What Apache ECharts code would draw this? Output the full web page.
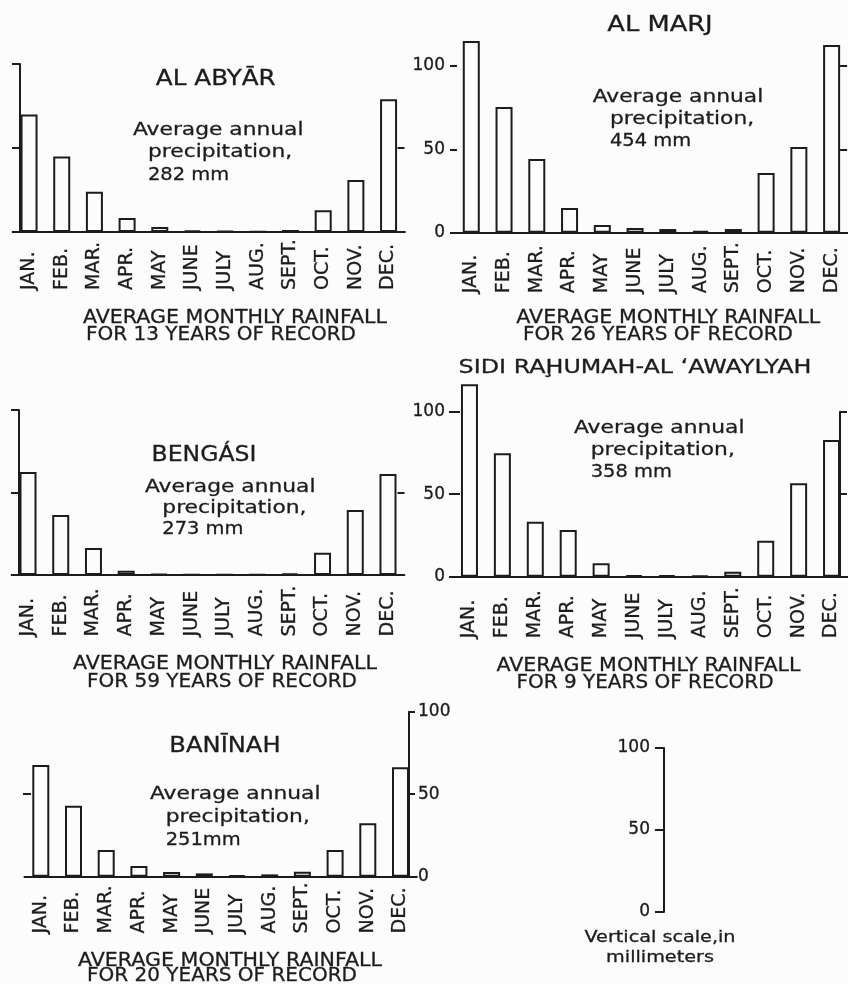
<!DOCTYPE html>
<html>
<head>
<meta charset="utf-8">
<title>Average monthly rainfall</title>
<script src="https://cdn.jsdelivr.net/npm/echarts@6/dist/echarts.min.js"></script>
<style>
  html, body { margin: 0; padding: 0; background: #fcfcfc; }
  #chart { width: 848px; height: 984px; }
</style>
</head>
<body>
<div id="chart"></div>
<script>
// month names lettered under the bars
const months = ['JAN.', 'FEB.', 'MAR.', 'APR.', 'MAY', 'JUNE', 'JULY', 'AUG.', 'SEPT.', 'OCT.', 'NOV.', 'DEC.']

// average monthly rainfall in mm
const alAbyar = [70, 45, 24, 8.3, 3, 0.8, 0.5, 0.4, 1.2, 13, 31, 79]
const alMarj = [115, 75.4, 44.2, 14.8, 4.6, 2.8, 2.2, 1, 2.2, 35.8, 51.4, 112.6]
const bengasi = [62.4, 36.4, 16.4, 2.6, 0.6, 0.3, 0.2, 0.4, 1, 13.5, 39.4, 61.2]
const sidiRahumah = [116.6, 74.8, 33.3, 28.3, 8.1, 0.8, 0.8, 0.6, 3, 21.8, 56.6, 82.8]
const baninah = [67.7, 43, 16.2, 6.5, 2.8, 2, 0.8, 1.4, 3, 16.2, 32.4, 66.3]

const stations = ['AL ABYĀR', 'AL MARJ', 'BENGÁSI', 'SIDI RAḨUMAH-AL ʻAWAYLYAH', 'BANĪNAH']
const annualText = ['282 mm', '454 mm', '273 mm', '358 mm', '251mm']
const yearsOfRecord = [13, 26, 59, 9, 20]
const scaleTicks = [0, 50, 100]

const INK = '#1c1c1c'
const BG = '#fcfcfc'
const FONT = 'DejaVu Sans'

// where each small chart sits on the sheet
const panels = [
  { data: alAbyar, grid: [12.7, 64, 392.2, 168], labelMargin: 58,
    left: { off: -7.3, line: true, ticks: [0, 50, 100], len: 8 },
    right: { off: -7.4, line: false, ticks: [50], len: 7 },
    title: [215.8, 79.5, 22, 1.12], note: [133, 148, 130, 22.5], caption: [235, 317.5, 221, 335] },
  { data: alMarj, grid: [454.9, 66, 394, 166.7], labelMargin: 60.5,
    left: { off: -2.1, line: false, ticks: [0, 50, 100], len: 7, labels: scaleTicks, margin: 12 },
    right: { off: -7.9, line: false, ticks: [50, 100], len: 7 },
    title: [660, 25, 22, 1.17], note: [592.7, 610, 97, 22], caption: [668.3, 317.5, 658, 335] },
  { data: bengasi, grid: [11.65, 410, 392.7, 165], labelMargin: 61.5,
    left: { off: -7.35, line: true, ticks: [0, 50, 100], len: 8 },
    right: { off: -6.85, line: false, ticks: [50], len: 7 },
    title: [204, 455, 22, 1.07], note: [145, 162.3, 487.8, 21], caption: [225, 664, 222, 681.5] },
  { data: sidiRahumah, grid: [453, 411.7, 395.1, 165], labelMargin: 61.5,
    left: { off: -7, line: false, ticks: [0, 50, 100], len: 11, labels: scaleTicks, margin: 15 },
    right: { off: -8, line: true, ticks: [50, 100], len: 7 },
    title: [635, 368, 20, 1.19], note: [574, 590.7, 428.3, 22], caption: [648.5, 665.8, 645, 683] },
  { data: baninah, grid: [24.45, 711.7, 392.4, 165], labelMargin: 56.7,
    left: { off: -6.55, line: false, ticks: [50], len: 8 },
    right: { off: -7.85, line: true, ticks: [0, 50, 100], len: 6, labels: scaleTicks, margin: 9 },
    title: [225, 746, 22, 1.1], note: [150, 165.7, 794, 23], caption: [230, 960.3, 222, 976] }
]

function yAx (gi, pos, s) {
  return {
    type: 'value', gridIndex: gi, position: pos, min: 0, max: 100, interval: 50,
    offset: s.off,
    axisLine: { show: s.line, lineStyle: { color: INK, width: 2 } },
    axisTick: { show: true, length: s.len, customValues: s.ticks, lineStyle: { color: INK, width: 2 } },
    axisLabel: s.labels
      ? { show: true, customValues: s.labels, margin: s.margin, fontSize: 17, fontFamily: FONT, color: INK, textBorderColor: INK, textBorderWidth: 0.3 }
      : { show: false },
    splitLine: { show: false }
  }
}

function txt (str, x, y, size, align, sx) {
  return {
    type: 'text', x: x, y: y, scaleX: sx, silent: true,
    style: {
      text: str, fontSize: size, fontFamily: FONT, fill: INK, stroke: INK, lineWidth: 0.3,
      align: align, verticalAlign: 'middle', textAlign: align, textVerticalAlign: 'middle'
    }
  }
}

const grids = []
const xAxes = []
const yAxes = []
const series = []
const texts = []

panels.forEach((p, i) => {
  grids.push({ left: p.grid[0], top: p.grid[1], width: p.grid[2], height: p.grid[3] })
  xAxes.push({
    type: 'category', gridIndex: i, data: months,
    axisLine: { show: true, onZero: false, lineStyle: { color: INK, width: 2 } },
    axisTick: { show: false },
    axisLabel: {
      interval: 0, rotate: 90, align: 'left', verticalAlign: 'middle', margin: p.labelMargin,
      fontSize: 19, fontFamily: FONT, color: INK, textBorderColor: INK, textBorderWidth: 0.3
    },
    splitLine: { show: false }
  })
  yAxes.push(yAx(i, 'left', p.left))
  yAxes.push(yAx(i, 'right', p.right))
  series.push({
    type: 'bar', xAxisIndex: i, yAxisIndex: i * 2, data: p.data,
    barWidth: 17, clip: false, silent: true,
    itemStyle: { color: BG, borderColor: INK, borderWidth: 2 }
  })

  texts.push(txt(stations[i], p.title[0], p.title[1], p.title[2], 'center', p.title[3]))
  texts.push(txt('Average annual', p.note[0], p.note[2], 18, 'left', 1.21))
  texts.push(txt('precipitation,', p.note[1], p.note[2] + p.note[3], 18, 'left', 1.21))
  texts.push(txt(annualText[i], p.note[1], p.note[2] + p.note[3] * 2, 18, 'left', 1.08))
  texts.push(txt('AVERAGE MONTHLY RAINFALL', p.caption[0], p.caption[1], 20, 'center', 1.03))
  texts.push(txt('FOR ' + yearsOfRecord[i] + ' YEARS OF RECORD', p.caption[2], p.caption[3], 20, 'center', 1.0))
})

// the stand-alone vertical scale
grids.push({ left: 664, top: 748, width: 20, height: 164 })
xAxes.push({ type: 'value', gridIndex: 5, min: 0, max: 1, show: false })
yAxes.push(yAx(5, 'left', { off: 0, line: true, ticks: scaleTicks, len: 9, labels: scaleTicks, margin: 14 }))
texts.push(txt('Vertical scale,in', 660, 938, 16, 'center', 1.2))
texts.push(txt('millimeters', 660, 958, 16, 'center', 1.2))

const myChart = echarts.init(document.getElementById('chart'))
myChart.setOption({
  backgroundColor: BG,
  animation: false,
  grid: grids,
  xAxis: xAxes,
  yAxis: yAxes,
  series: series,
  graphic: { elements: texts }
})
</script>
</body>
</html>
